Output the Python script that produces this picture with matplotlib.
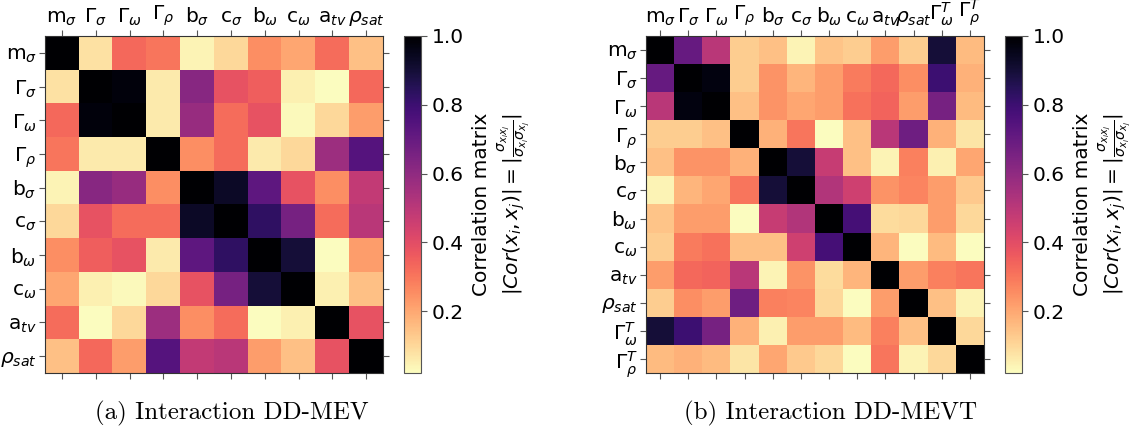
import numpy as np
import matplotlib
matplotlib.use("Agg")
import matplotlib.pyplot as plt

# parameter labels
LABELS_A = [r"m$_\sigma$", r"$\Gamma_\sigma$", r"$\Gamma_\omega$", r"$\Gamma_\rho$",
            r"b$_\sigma$", r"c$_\sigma$", r"b$_\omega$", r"c$_\omega$",
            r"a$_{tv}$", r"$\rho_{sat}$"]
LABELS_B = LABELS_A + [r"$\Gamma_\omega^T$", r"$\Gamma_\rho^T$"]

# |correlation| matrix, DD-MEV
CORR_A = [
    [1.00, 0.08, 0.33, 0.30, 0.04, 0.10, 0.25, 0.20, 0.32, 0.15],
    [0.08, 1.00, 0.98, 0.06, 0.62, 0.38, 0.35, 0.05, 0.02, 0.33],
    [0.33, 0.98, 1.00, 0.06, 0.58, 0.32, 0.38, 0.03, 0.10, 0.22],
    [0.30, 0.06, 0.06, 1.00, 0.25, 0.32, 0.06, 0.10, 0.57, 0.74],
    [0.04, 0.62, 0.58, 0.25, 1.00, 0.93, 0.72, 0.38, 0.25, 0.48],
    [0.10, 0.38, 0.32, 0.32, 0.93, 1.00, 0.83, 0.66, 0.32, 0.50],
    [0.25, 0.35, 0.38, 0.06, 0.72, 0.83, 1.00, 0.90, 0.02, 0.22],
    [0.20, 0.05, 0.03, 0.10, 0.38, 0.66, 0.90, 1.00, 0.05, 0.15],
    [0.32, 0.02, 0.10, 0.57, 0.25, 0.32, 0.02, 0.05, 1.00, 0.38],
    [0.15, 0.33, 0.22, 0.74, 0.48, 0.50, 0.22, 0.15, 0.38, 1.00],
]

# |correlation| matrix, DD-MEVT
CORR_B = [
    [1.00, 0.70, 0.50, 0.12, 0.15, 0.04, 0.14, 0.12, 0.22, 0.12, 0.90, 0.16],
    [0.70, 1.00, 0.97, 0.12, 0.24, 0.17, 0.22, 0.29, 0.33, 0.25, 0.80, 0.18],
    [0.50, 0.97, 1.00, 0.15, 0.24, 0.20, 0.22, 0.31, 0.34, 0.22, 0.66, 0.16],
    [0.12, 0.12, 0.15, 1.00, 0.18, 0.30, 0.02, 0.15, 0.50, 0.68, 0.18, 0.07],
    [0.15, 0.24, 0.24, 0.18, 1.00, 0.90, 0.47, 0.15, 0.04, 0.28, 0.05, 0.20],
    [0.04, 0.17, 0.20, 0.30, 0.90, 1.00, 0.52, 0.45, 0.24, 0.27, 0.22, 0.13],
    [0.14, 0.22, 0.22, 0.02, 0.47, 0.52, 1.00, 0.78, 0.09, 0.10, 0.22, 0.10],
    [0.12, 0.29, 0.31, 0.15, 0.15, 0.45, 0.78, 1.00, 0.17, 0.02, 0.16, 0.02],
    [0.22, 0.33, 0.34, 0.50, 0.04, 0.24, 0.09, 0.17, 1.00, 0.22, 0.28, 0.30],
    [0.12, 0.25, 0.22, 0.68, 0.28, 0.27, 0.10, 0.02, 0.22, 1.00, 0.15, 0.04],
    [0.90, 0.80, 0.66, 0.18, 0.05, 0.22, 0.22, 0.16, 0.28, 0.15, 1.00, 0.10],
    [0.16, 0.18, 0.16, 0.07, 0.20, 0.13, 0.10, 0.02, 0.30, 0.04, 0.10, 1.00],
]

CAPTIONS = ["(a) Interaction DD-MEV", "(b) Interaction DD-MEVT"]

W, H = 1133, 446
fig = plt.figure(figsize=(W / 100, H / 100), dpi=100)

def px(x0, y0, x1, y1):
    return [x0 / W, 1 - y1 / H, (x1 - x0) / W, (y1 - y0) / H]

CB_LABEL = ("Correlation matrix\n"
            r"$|Cor(x_i,x_j)| = |\frac{\sigma_{x_i x_j}}{\sigma_{x_i}\sigma_{x_j}}|$")

panels = [
    (CORR_A, LABELS_A, px(45, 36, 383, 373), px(404, 36, 421, 373), 232),
    (CORR_B, LABELS_B, px(646, 36, 984, 373), px(1005, 36, 1022, 373), 831),
]

for i, (corr, labels, ax_box, cb_box, cap_x) in enumerate(panels):
    mat = np.array(corr)
    ax = fig.add_axes(ax_box)
    im = ax.imshow(mat, cmap="magma_r", aspect="auto", interpolation="nearest")
    n = len(labels)
    ax.set_xticks(range(n))
    ax.set_yticks(range(n))
    ax.set_xticklabels(labels, fontsize=14.5)
    ax.set_yticklabels(labels, fontsize=14.5)
    ax.tick_params(top=True, bottom=True, left=True, right=True,
                   labeltop=True, labelbottom=False, length=4, pad=2,
                   color="#555555")
    for s in ax.spines.values():
        s.set_color("#333333")

    cax = fig.add_axes(cb_box)
    cb = fig.colorbar(im, cax=cax)
    cb.set_ticks([0.2, 0.4, 0.6, 0.8, 1.0])
    cb.ax.tick_params(labelsize=14.5, length=4, color="#555555")
    cb.outline.set_edgecolor("#555555")
    cb.set_label(CB_LABEL, fontsize=14.5, labelpad=6)

    fig.text(cap_x / W, 1 - 413 / H, CAPTIONS[i], ha="center", va="center",
             fontsize=18, family="cmr10")

fig.savefig("out.png", dpi=100)
